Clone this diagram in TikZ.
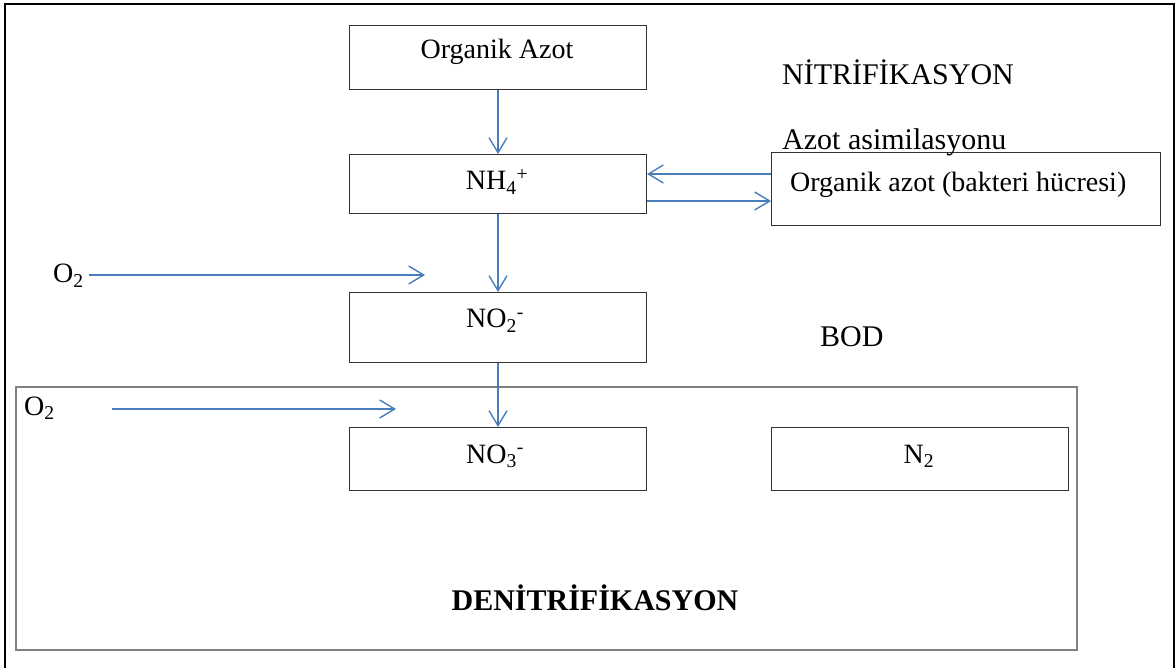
\documentclass[tikz,border=0pt]{standalone}
\usepackage{fontspec}
\setmainfont{Liberation Serif}
\usetikzlibrary{arrows.meta}
\definecolor{arrowblue}{RGB}{74,126,187}
\definecolor{boxline}{RGB}{50,50,50}
\definecolor{bigline}{RGB}{128,128,128}
\tikzset{
  box/.style={draw=boxline, line width=1pt, inner sep=0pt, anchor=north west},
  flow/.style={draw=arrowblue, line width=1.4pt, -{Straight Barb[length=15pt,width=18pt]}},
  txt/.style={font=\fontsize{28}{32}\selectfont, inner sep=0pt},
  head/.style={font=\fontsize{30}{34}\selectfont, inner sep=0pt},
  bighead/.style={font=\fontsize{30}{34}\selectfont\bfseries, inner sep=0pt},
}
\begin{document}
\begin{tikzpicture}[x=1pt,y=-1pt]
\useasboundingbox (0,0) rectangle (1176,668);
% outer frame (open at bottom)
\draw[line width=2pt] (5,668) -- (5,4) -- (1174,4) -- (1174,668);
% denitrification area
\node[box, draw=bigline, line width=1.6pt, minimum width=1061pt, minimum height=263pt] (big) at (15,386) {};
% boxes
\node[box, minimum width=297pt, minimum height=64pt] (org) at (349,25) {};
\node[box, minimum width=297pt, minimum height=59pt] (nh4) at (349,154) {};
\node[box, minimum width=297pt, minimum height=70pt] (no2) at (349,292) {};
\node[box, minimum width=297pt, minimum height=63pt] (no3) at (349,427) {};
\node[box, minimum width=297pt, minimum height=63pt] (n2) at (771,427) {};
\node[box, minimum width=389pt, minimum height=73pt] (cell) at (771,152) {};
% box texts
\node[txt, anchor=base] (orgtext) at (497,59) {Organik Azot};
\node[txt, anchor=base] (nh4text) at (497,190) {NH\textsubscript{4}\textsuperscript{+}};
\node[txt, anchor=base] (no2text) at (495,328) {NO\textsubscript{2}\textsuperscript{-}};
\node[txt, anchor=base] (no3text) at (495,463) {NO\textsubscript{3}\textsuperscript{-}};
\node[txt, anchor=base] (n2text) at (919,463) {N\textsubscript{2}};
\node[txt, anchor=base west] (celltext) at (790,192) {Organik azot (bakteri hücresi)};
% free labels
\node[head, anchor=base west] (nitri) at (782,85) {NİTRİFİKASYON};
\node[head, anchor=base west] (asim) at (782,150) {Azot asimilasyonu};
\node[head, anchor=base west] (bod) at (820,347) {BOD};
\node[bighead, anchor=base] (denitri) at (595,610) {DENİTRİFİKASYON};
\node[txt, anchor=base west] (o2a) at (53,283) {O\textsubscript{2}};
\node[txt, anchor=base west] (o2b) at (24,415) {O\textsubscript{2}};
% connectors
\coordinate (o2aend) at (425,275);
\coordinate (o2bstart) at (112,409);
\coordinate (o2bend) at (396,409);
\draw[flow] (org.south) -- (nh4.north);
\draw[flow] (nh4.south) -- (no2.north);
\draw[flow] (no2.south) -- (no3.north);
\draw[flow] (cell.west |- 0,174) -- (nh4.east |- 0,174);
\draw[flow] (nh4.east |- 0,201) -- (cell.west |- 0,201);
\draw[flow] ([xshift=5pt]o2a.east |- o2aend) -- (o2aend);
\draw[flow] (o2bstart) -- (o2bend);
\end{tikzpicture}
\end{document}
